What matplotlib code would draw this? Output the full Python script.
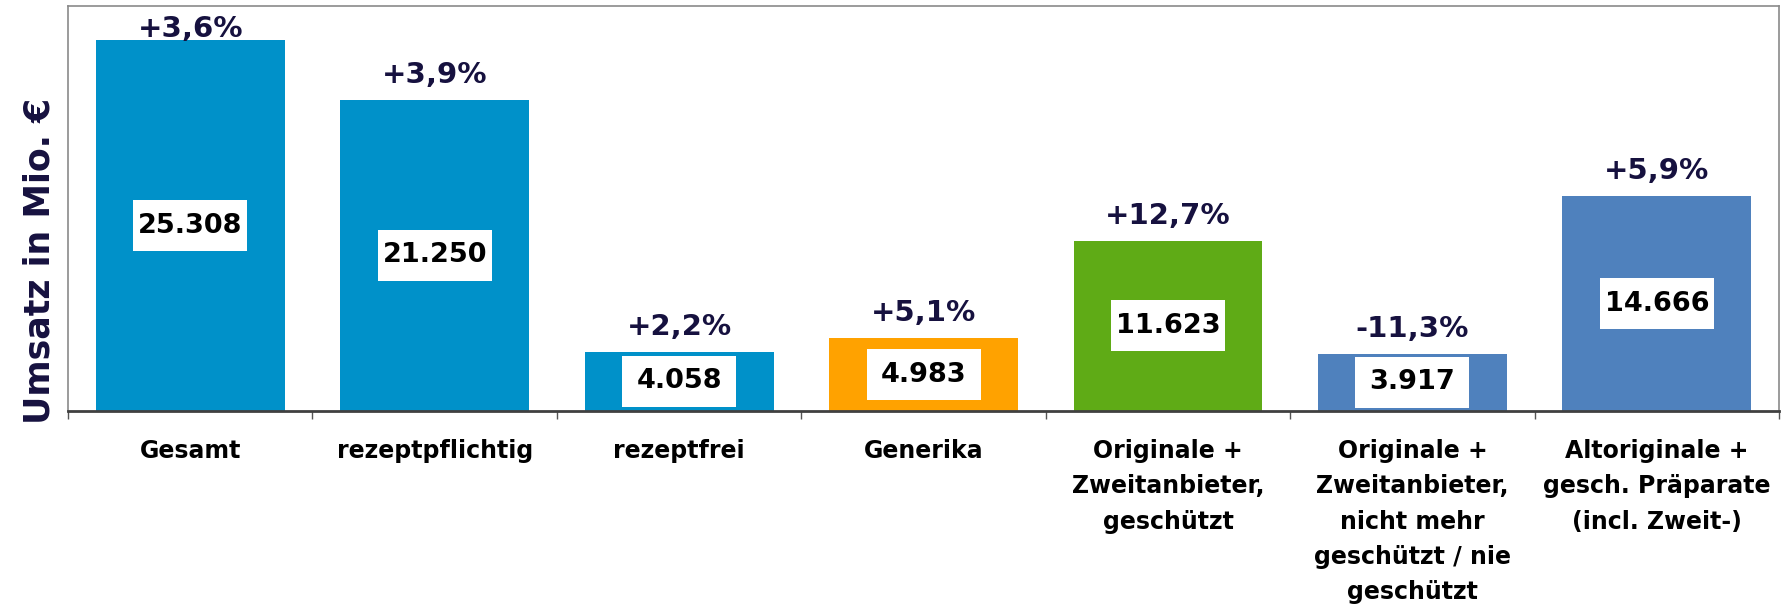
import matplotlib
matplotlib.use("Agg")
import matplotlib.pyplot as plt
from matplotlib.patches import Rectangle
from matplotlib.ticker import FixedLocator

categories = [
    "Gesamt",
    "rezeptpflichtig",
    "rezeptfrei",
    "Generika",
    "Originale +\nZweitanbieter,\ngeschützt",
    "Originale +\nZweitanbieter,\nnicht mehr\ngeschützt / nie\ngeschützt",
    "Altoriginale +\ngesch. Präparate\n(incl. Zweit-)",
]
umsatz = [25308, 21250, 4058, 4983, 11623, 3917, 14666]
value_labels = ["25.308", "21.250", "4.058", "4.983", "11.623", "3.917", "14.666"]
change_labels = ["+3,6%", "+3,9%", "+2,2%", "+5,1%", "+12,7%", "-11,3%", "+5,9%"]
bar_colors = ["#0091C9", "#0091C9", "#0091C9", "#FFA200",
              "#5FAB16", "#4F81BD", "#4F81BD"]

NAVY = "#16113F"
YMAX = 27660

fig = plt.figure(figsize=(17.9, 6.06), dpi=100)
ax = fig.add_axes([0.038, 0.3218, 0.9559, 0.6682])

x = list(range(len(categories)))
ax.bar(x, umsatz, width=0.773, color=bar_colors, zorder=2)

ax.set_xlim(-0.5, len(categories) - 0.5)
ax.set_ylim(0, YMAX)
ax.set_yticks([])

# category labels centred, ticks on the category boundaries
ax.set_xticks(x)
ax.set_xticklabels(categories, fontsize=17, fontweight="bold",
                   linespacing=1.6)
ax.tick_params(axis="x", which="major", length=0, pad=20)
ax.xaxis.set_minor_locator(FixedLocator([i - 0.5 for i in range(len(categories) + 1)]))
ax.tick_params(axis="x", which="minor", length=6, width=1, color="#555555")

for side in ["top", "left", "right"]:
    ax.spines[side].set_color("#8a8a8a")
    ax.spines[side].set_linewidth(1.2)
ax.spines["bottom"].set_color("#404040")
ax.spines["bottom"].set_linewidth(2)

px = YMAX / (0.6682 * 606)          # data units per pixel (y)
px_x = 7 / (0.9559 * 1790)          # data units per pixel (x)
box_w, box_h = 114 * px_x, 51 * px
for xi, v, vl, cl in zip(x, umsatz, value_labels, change_labels):
    yc = max(v / 2, box_h / 2 + 2 * px)
    ax.add_patch(Rectangle((xi - box_w / 2, yc - box_h / 2), box_w, box_h,
                           facecolor="white", edgecolor="none", zorder=3))
    ax.text(xi, yc, vl, ha="center", va="center", fontsize=19.5,
            fontweight="bold", color="black", zorder=4)
    y_txt = min(v + 17 * px, YMAX - 31 * px)
    ax.text(xi, y_txt, cl, ha="center", va="baseline", fontsize=21,
            fontweight="bold", color=NAVY, zorder=4)

fig.text(0.022, 0.569, "Umsatz in Mio. €", rotation=90, ha="center",
         va="center", fontsize=25, fontweight="bold", color=NAVY)

fig.savefig("out.png", dpi=100)
